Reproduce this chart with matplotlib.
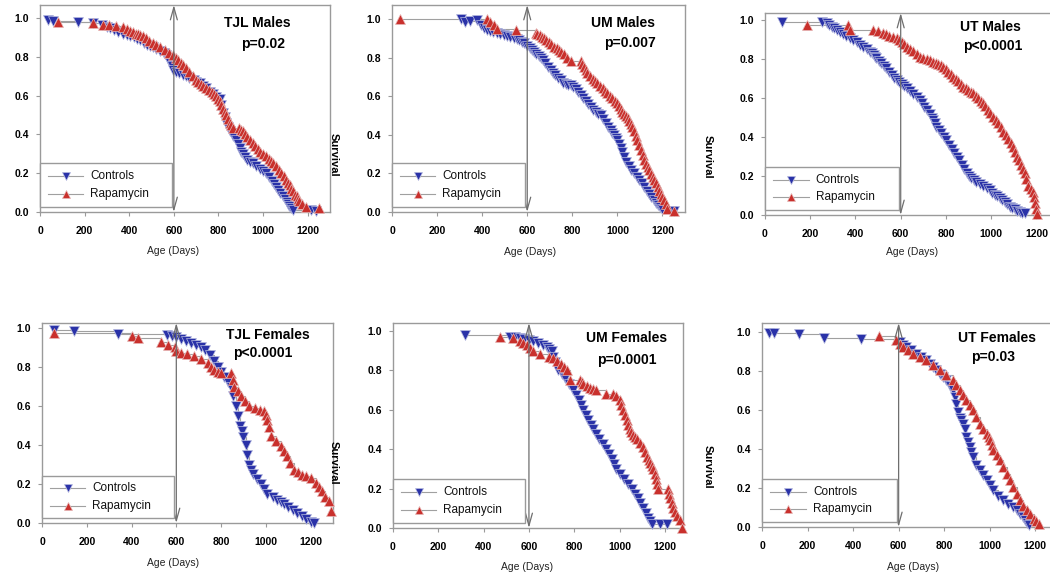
import matplotlib
matplotlib.use("Agg")
import matplotlib.pyplot as plt
from matplotlib.lines import Line2D
from matplotlib.patches import Rectangle

# ---------------- data (age in days, fraction surviving) ----------------
tjl_m_ctrl_age = [37, 60, 171, 238, 280, 300, 313, 330, 350, 370, 388, 405, 420, 435, 447, 465, 480, 495, 507, 520, 540, 555, 566, 575, 581, 590, 596, 610, 625, 640, 656, 670, 690, 700, 715, 730, 745, 760, 775, 790, 805, 812, 820, 828, 835, 842, 850, 865, 880, 888, 895, 902, 909, 920, 930, 942, 954, 970, 985, 1000, 1014, 1028, 1040, 1050, 1058, 1067, 1075, 1088, 1097, 1105, 1112, 1118, 1125, 1133, 1215, 1237]
tjl_m_ctrl_surv = [0.99, 0.985, 0.98, 0.975, 0.965, 0.955, 0.95, 0.94, 0.93, 0.92, 0.91, 0.905, 0.90, 0.89, 0.885, 0.87, 0.86, 0.855, 0.85, 0.84, 0.83, 0.82, 0.81, 0.79, 0.77, 0.75, 0.73, 0.72, 0.715, 0.705, 0.70, 0.69, 0.68, 0.67, 0.665, 0.65, 0.64, 0.62, 0.61, 0.595, 0.58, 0.55, 0.51, 0.49, 0.46, 0.44, 0.415, 0.39, 0.37, 0.35, 0.33, 0.31, 0.30, 0.285, 0.27, 0.26, 0.25, 0.235, 0.22, 0.21, 0.20, 0.18, 0.16, 0.145, 0.13, 0.115, 0.10, 0.08, 0.065, 0.05, 0.04, 0.03, 0.02, 0.01, 0.01, 0.005]
tjl_m_rapa_age = [82, 238, 283, 310, 340, 373, 390, 405, 417, 430, 440, 450, 462, 475, 490, 505, 522, 540, 560, 578, 596, 608, 620, 630, 641, 655, 670, 685, 700, 710, 720, 732, 745, 758, 770, 780, 790, 798, 805, 812, 820, 828, 835, 842, 850, 857, 864, 894, 902, 909, 920, 930, 942, 954, 965, 975, 985, 1000, 1014, 1025, 1035, 1046, 1058, 1070, 1080, 1092, 1103, 1112, 1120, 1127, 1133, 1142, 1150, 1157, 1163, 1175, 1193, 1252]
tjl_m_rapa_surv = [0.98, 0.975, 0.965, 0.962, 0.96, 0.955, 0.945, 0.935, 0.93, 0.92, 0.915, 0.91, 0.905, 0.895, 0.88, 0.87, 0.86, 0.848, 0.835, 0.82, 0.81, 0.795, 0.785, 0.77, 0.76, 0.74, 0.72, 0.70, 0.68, 0.67, 0.66, 0.65, 0.64, 0.63, 0.62, 0.61, 0.60, 0.585, 0.57, 0.55, 0.53, 0.515, 0.50, 0.48, 0.46, 0.447, 0.435, 0.435, 0.425, 0.415, 0.40, 0.385, 0.37, 0.355, 0.34, 0.325, 0.31, 0.30, 0.29, 0.275, 0.265, 0.25, 0.235, 0.215, 0.20, 0.185, 0.167, 0.15, 0.14, 0.12, 0.107, 0.09, 0.08, 0.065, 0.055, 0.04, 0.026, 0.02]

um_m_ctrl_age = [304, 326, 345, 378, 393, 408, 422, 436, 450, 465, 481, 495, 510, 525, 541, 555, 565, 575, 585, 600, 612, 622, 631, 640, 650, 659, 670, 680, 692, 704, 715, 725, 737, 748, 760, 770, 782, 793, 805, 815, 826, 837, 848, 860, 871, 882, 893, 905, 915, 926, 938, 950, 960, 970, 978, 985, 993, 1000, 1008, 1015, 1022, 1030, 1040, 1050, 1062, 1074, 1085, 1095, 1107, 1119, 1130, 1140, 1150, 1163, 1172, 1180, 1190, 1200, 1237, 1252]
um_m_ctrl_surv = [1.0, 0.985, 0.99, 0.995, 0.97, 0.955, 0.94, 0.935, 0.93, 0.925, 0.92, 0.915, 0.91, 0.905, 0.90, 0.895, 0.89, 0.88, 0.875, 0.86, 0.85, 0.84, 0.83, 0.82, 0.81, 0.80, 0.785, 0.77, 0.75, 0.735, 0.72, 0.71, 0.695, 0.683, 0.67, 0.665, 0.66, 0.657, 0.645, 0.635, 0.62, 0.605, 0.59, 0.575, 0.56, 0.545, 0.53, 0.52, 0.51, 0.50, 0.48, 0.46, 0.44, 0.424, 0.41, 0.40, 0.385, 0.372, 0.35, 0.33, 0.31, 0.285, 0.26, 0.24, 0.22, 0.20, 0.18, 0.165, 0.15, 0.13, 0.11, 0.095, 0.08, 0.06, 0.045, 0.035, 0.025, 0.017, 0.005, 0.005]
um_m_rapa_age = [37, 422, 437, 452, 467, 548, 637, 645, 655, 664, 674, 685, 696, 707, 718, 730, 740, 752, 763, 775, 793, 837, 845, 852, 860, 867, 878, 890, 900, 911, 922, 935, 945, 956, 967, 978, 990, 1000, 1008, 1015, 1022, 1030, 1038, 1045, 1052, 1059, 1067, 1075, 1082, 1089, 1097, 1104, 1112, 1119, 1126, 1134, 1141, 1148, 1156, 1163, 1170, 1178, 1185, 1192, 1200, 1207, 1215, 1222, 1252]
um_m_rapa_surv = [1.0, 1.0, 0.985, 0.97, 0.95, 0.943, 0.925, 0.92, 0.915, 0.905, 0.90, 0.89, 0.88, 0.868, 0.857, 0.848, 0.84, 0.83, 0.82, 0.80, 0.78, 0.78, 0.765, 0.75, 0.735, 0.718, 0.705, 0.69, 0.678, 0.666, 0.653, 0.64, 0.627, 0.614, 0.60, 0.59, 0.575, 0.562, 0.55, 0.535, 0.52, 0.51, 0.497, 0.485, 0.47, 0.458, 0.44, 0.42, 0.395, 0.372, 0.345, 0.32, 0.295, 0.268, 0.25, 0.235, 0.215, 0.199, 0.18, 0.165, 0.148, 0.13, 0.11, 0.095, 0.078, 0.06, 0.04, 0.017, 0.005]

ut_m_ctrl_age = [74, 250, 272, 285, 295, 306, 317, 330, 345, 360, 375, 390, 405, 420, 434, 450, 464, 472, 480, 487, 493, 504, 515, 526, 537, 548, 560, 571, 582, 594, 605, 615, 626, 640, 655, 670, 685, 695, 705, 718, 729, 737, 745, 752, 758, 769, 780, 790, 802, 813, 825, 836, 847, 858, 870, 880, 891, 902, 912, 924, 935, 950, 965, 980, 994, 1005, 1015, 1027, 1038, 1050, 1060, 1071, 1082, 1094, 1105, 1116, 1126, 1137, 1148]
ut_m_ctrl_surv = [0.99, 0.99, 0.983, 0.975, 0.965, 0.957, 0.95, 0.94, 0.93, 0.918, 0.906, 0.895, 0.885, 0.874, 0.863, 0.85, 0.838, 0.83, 0.82, 0.81, 0.803, 0.79, 0.78, 0.765, 0.752, 0.735, 0.72, 0.705, 0.692, 0.68, 0.67, 0.66, 0.65, 0.635, 0.62, 0.605, 0.59, 0.572, 0.555, 0.537, 0.52, 0.50, 0.485, 0.47, 0.453, 0.437, 0.42, 0.40, 0.385, 0.36, 0.34, 0.32, 0.30, 0.28, 0.255, 0.235, 0.214, 0.20, 0.19, 0.18, 0.171, 0.16, 0.15, 0.14, 0.128, 0.115, 0.105, 0.095, 0.085, 0.075, 0.065, 0.055, 0.043, 0.036, 0.03, 0.022, 0.017, 0.012, 0.009]
ut_m_rapa_age = [184, 368, 375, 478, 500, 523, 537, 550, 566, 582, 594, 605, 615, 626, 640, 655, 670, 685, 700, 715, 730, 744, 755, 766, 777, 788, 799, 810, 821, 832, 843, 854, 865, 876, 887, 898, 909, 920, 931, 942, 953, 964, 975, 986, 997, 1009, 1020, 1030, 1042, 1053, 1064, 1075, 1086, 1097, 1106, 1115, 1122, 1130, 1139, 1148, 1156, 1165, 1175, 1185, 1190, 1193, 1198, 1203]
ut_m_rapa_surv = [0.974, 0.974, 0.95, 0.95, 0.945, 0.932, 0.926, 0.92, 0.913, 0.906, 0.895, 0.885, 0.875, 0.863, 0.852, 0.84, 0.826, 0.812, 0.805, 0.80, 0.793, 0.786, 0.78, 0.775, 0.768, 0.76, 0.748, 0.735, 0.722, 0.709, 0.697, 0.685, 0.672, 0.658, 0.65, 0.64, 0.632, 0.624, 0.612, 0.60, 0.587, 0.573, 0.558, 0.54, 0.522, 0.504, 0.488, 0.47, 0.45, 0.427, 0.41, 0.39, 0.37, 0.35, 0.325, 0.30, 0.28, 0.255, 0.235, 0.214, 0.185, 0.15, 0.135, 0.12, 0.09, 0.06, 0.03, 0.005]

tjl_f_ctrl_age = [52, 141, 341, 560, 580, 600, 622, 645, 667, 690, 711, 730, 750, 770, 785, 800, 815, 830, 844, 855, 867, 877, 886, 893, 900, 911, 918, 926, 935, 944, 960, 978, 993, 1007, 1030, 1052, 1066, 1081, 1100, 1120, 1141, 1160, 1180, 1200, 1215]
tjl_f_ctrl_surv = [0.99, 0.983, 0.97, 0.966, 0.96, 0.955, 0.945, 0.935, 0.923, 0.915, 0.905, 0.885, 0.86, 0.83, 0.80, 0.775, 0.75, 0.725, 0.70, 0.65, 0.60, 0.55, 0.50, 0.47, 0.44, 0.40, 0.35, 0.30, 0.27, 0.25, 0.225, 0.20, 0.175, 0.15, 0.135, 0.12, 0.11, 0.10, 0.08, 0.065, 0.05, 0.035, 0.02, 0.005, 0.0]
tjl_f_rapa_age = [52, 400, 430, 533, 563, 593, 600, 622, 650, 681, 710, 741, 755, 770, 785, 800, 844, 852, 859, 874, 889, 905, 926, 950, 975, 993, 1000, 1007, 1015, 1022, 1045, 1067, 1081, 1096, 1110, 1126, 1145, 1163, 1180, 1200, 1222, 1237, 1252, 1266, 1281, 1289]
tjl_f_rapa_surv = [0.974, 0.957, 0.949, 0.93, 0.915, 0.905, 0.88, 0.872, 0.865, 0.855, 0.84, 0.82, 0.80, 0.786, 0.775, 0.77, 0.77, 0.735, 0.70, 0.675, 0.65, 0.625, 0.60, 0.59, 0.58, 0.575, 0.555, 0.53, 0.49, 0.444, 0.42, 0.393, 0.37, 0.342, 0.31, 0.273, 0.26, 0.248, 0.24, 0.23, 0.205, 0.185, 0.162, 0.135, 0.111, 0.06]

um_f_ctrl_age = [317, 515, 540, 560, 580, 600, 620, 640, 660, 680, 690, 700, 707, 715, 722, 730, 745, 760, 778, 795, 808, 820, 830, 839, 850, 860, 872, 883, 896, 910, 925, 942, 953, 965, 976, 986, 1003, 1020, 1036, 1053, 1066, 1080, 1092, 1104, 1115, 1125, 1133, 1141, 1180, 1210]
um_f_ctrl_surv = [0.978, 0.97, 0.968, 0.965, 0.96, 0.955, 0.948, 0.94, 0.93, 0.92, 0.91, 0.90, 0.87, 0.84, 0.82, 0.80, 0.78, 0.76, 0.73, 0.70, 0.675, 0.65, 0.625, 0.60, 0.575, 0.55, 0.525, 0.50, 0.475, 0.45, 0.425, 0.40, 0.375, 0.35, 0.325, 0.30, 0.275, 0.25, 0.225, 0.20, 0.175, 0.15, 0.125, 0.10, 0.075, 0.05, 0.035, 0.02, 0.02, 0.02]
um_f_rapa_age = [471, 530, 560, 575, 590, 605, 620, 650, 690, 707, 725, 740, 753, 766, 780, 825, 832, 839, 855, 870, 884, 898, 940, 972, 986, 1001, 1008, 1016, 1023, 1031, 1038, 1045, 1052, 1060, 1068, 1075, 1090, 1104, 1112, 1120, 1128, 1135, 1142, 1148, 1155, 1163, 1167, 1171, 1215, 1218, 1222, 1230, 1237, 1246, 1255, 1266, 1274]
um_f_rapa_surv = [0.97, 0.965, 0.95, 0.94, 0.93, 0.915, 0.90, 0.885, 0.87, 0.86, 0.845, 0.83, 0.815, 0.80, 0.75, 0.75, 0.74, 0.73, 0.72, 0.71, 0.705, 0.70, 0.68, 0.68, 0.67, 0.65, 0.625, 0.60, 0.575, 0.55, 0.525, 0.50, 0.485, 0.47, 0.46, 0.45, 0.43, 0.41, 0.385, 0.36, 0.345, 0.33, 0.315, 0.30, 0.275, 0.25, 0.225, 0.20, 0.20, 0.175, 0.15, 0.125, 0.10, 0.08, 0.06, 0.04, 0.0]

ut_f_ctrl_age = [29, 52, 162, 272, 434, 604, 618, 633, 655, 677, 700, 721, 736, 751, 766, 780, 795, 810, 825, 839, 847, 854, 862, 869, 876, 883, 890, 898, 905, 913, 920, 928, 942, 957, 972, 987, 1001, 1016, 1038, 1060, 1082, 1104, 1119, 1134, 1145, 1156, 1164, 1171]
ut_f_ctrl_surv = [0.995, 0.995, 0.988, 0.971, 0.966, 0.949, 0.935, 0.923, 0.905, 0.889, 0.872, 0.855, 0.837, 0.82, 0.803, 0.786, 0.77, 0.752, 0.725, 0.70, 0.665, 0.632, 0.59, 0.56, 0.547, 0.53, 0.50, 0.462, 0.435, 0.41, 0.385, 0.359, 0.32, 0.29, 0.265, 0.239, 0.213, 0.188, 0.16, 0.137, 0.12, 0.103, 0.085, 0.068, 0.05, 0.034, 0.02, 0.009]
ut_f_rapa_age = [515, 589, 604, 618, 640, 663, 692, 721, 750, 780, 810, 839, 854, 869, 884, 898, 913, 928, 942, 957, 972, 987, 995, 1001, 1008, 1016, 1030, 1045, 1060, 1075, 1090, 1104, 1119, 1134, 1148, 1163, 1178, 1193, 1205, 1215]
ut_f_rapa_surv = [0.978, 0.957, 0.94, 0.923, 0.905, 0.889, 0.872, 0.855, 0.83, 0.803, 0.778, 0.752, 0.726, 0.70, 0.675, 0.65, 0.625, 0.598, 0.565, 0.53, 0.505, 0.479, 0.46, 0.444, 0.42, 0.393, 0.367, 0.342, 0.31, 0.274, 0.24, 0.205, 0.17, 0.137, 0.11, 0.085, 0.065, 0.043, 0.03, 0.017]

panel_titles = ["TJL Males", "UM Males", "UT Males", "TJL Females", "UM Females", "UT Females"]
panel_pvals = ["p=0.02", "p=0.007", "p<0.0001", "p<0.0001", "p=0.0001", "p=0.03"]
series_labels = ["Controls", "Rapamycin"]
x_ticks = [0, 200, 400, 600, 800, 1000, 1200]
y_ticks = [0.0, 0.2, 0.4, 0.6, 0.8, 1.0]
treatment_start = 600

panel_data = [
    (tjl_m_ctrl_age, tjl_m_ctrl_surv, tjl_m_rapa_age, tjl_m_rapa_surv),
    (um_m_ctrl_age, um_m_ctrl_surv, um_m_rapa_age, um_m_rapa_surv),
    (ut_m_ctrl_age, ut_m_ctrl_surv, ut_m_rapa_age, ut_m_rapa_surv),
    (tjl_f_ctrl_age, tjl_f_ctrl_surv, tjl_f_rapa_age, tjl_f_rapa_surv),
    (um_f_ctrl_age, um_f_ctrl_surv, um_f_rapa_age, um_f_rapa_surv),
    (ut_f_ctrl_age, ut_f_ctrl_surv, ut_f_rapa_age, ut_f_rapa_surv),
]

# ---------------- layout (pixels in a 1050x579 canvas) ----------------
W, H = 1050, 579
# left, right, top, bottom (px), xmax, ymax
boxes = [
    (40, 330, 5, 212, 1300, 1.067),
    (392, 685, 5, 212, 1300, 1.072),
    (765, 1059, 13, 215, 1300, 1.036),
    (42, 333, 323, 523, 1300, 1.026),
    (393, 683, 323, 528, 1280, 1.040),
    (762, 1058, 323, 527, 1300, 1.046),
]
title_pos = [((257, 23), (263, 44)), ((623, 23), (630, 43)), ((990, 27), (993, 46)),
             ((268, 335), (263, 353)), ((627, 338), (627, 360)), ((997, 338), (993, 357))]
xlabel_pos = [(173, 251), (530, 252), (912, 252), (173, 563), (527, 567), (913, 567)]
ylabel_pos = [(334, 155), (708, 157), (334, 463), (708, 467)]

CTRL_C = "#2a32a8"
RAPA_C = "#c9302c"
CTRL_E = "#b8bce0"
RAPA_E = "#e6b8b8"
GRID_C = "#9a9a9a"
FONT = "Liberation Sans"
MS = 6.5

fig = plt.figure(figsize=(W / 100, H / 100), dpi=100)
fig.patch.set_facecolor("white")


def fx(x):
    return x / W


def fy(y):
    return 1 - y / H


for i, (l, r, t, b, xmax, ymax) in enumerate(boxes):
    ax = fig.add_axes([fx(l), fy(b), (r - l) / W, (b - t) / H])
    ca, cs, ra, rs = panel_data[i]
    ax.plot(ca, cs, drawstyle="steps-post", color="#a0a0a0", lw=0.8, zorder=2)
    ax.plot(ra, rs, drawstyle="steps-post", color="#a0a0a0", lw=0.8, zorder=2)
    ax.plot(ca, cs, ls="none", marker="v", ms=MS, mfc=CTRL_C, mec=CTRL_E,
            mew=0.5, clip_on=False, zorder=3)
    ax.plot(ra, rs, ls="none", marker="^", ms=MS, mfc=RAPA_C, mec=RAPA_E,
            mew=0.5, clip_on=False, zorder=4)
    ax.set_xlim(0, xmax)
    ax.set_ylim(0, ymax)
    ax.set_xticks(x_ticks)
    ax.set_yticks(y_ticks)
    ax.set_xticklabels([str(v) for v in x_ticks], fontsize=7.5, fontweight="bold",
                       family=FONT)
    ax.set_yticklabels(["%.1f" % v for v in y_ticks], fontsize=7.5, fontweight="bold",
                       family=FONT)
    ax.tick_params(direction="out", length=3, width=0.8, color=GRID_C)
    ax.tick_params(axis="x", pad=7)
    ax.tick_params(axis="y", pad=5)
    for s in ax.spines.values():
        s.set_color(GRID_C)
        s.set_linewidth(1.0)
    # treatment start arrow
    ax.annotate("", xy=(treatment_start, ymax), xytext=(treatment_start, 0),
                arrowprops=dict(arrowstyle="<->,head_length=0.9,head_width=0.25",
                                color="#6e6e6e", lw=0.9, shrinkA=0, shrinkB=0),
                zorder=5, annotation_clip=False)
    # legend box
    ax.add_patch(Rectangle((0.0, 0.024), 0.455, 0.213, transform=ax.transAxes,
                           fill=True, facecolor="white", edgecolor=GRID_C, lw=1.0,
                           zorder=6, clip_on=False))
    for k, (yy, mk, col, mec) in enumerate([(0.174, "v", CTRL_C, CTRL_E),
                                            (0.087, "^", RAPA_C, RAPA_E)]):
        ax.add_line(Line2D([0.028, 0.148], [yy, yy], transform=ax.transAxes,
                           color="#a0a0a0", lw=0.8, zorder=7))
        ax.add_line(Line2D([0.088], [yy], transform=ax.transAxes, ls="none",
                           marker=mk, ms=5.5, mfc=col, mec=mec, mew=0.5, zorder=8))
        ax.text(0.172, yy, series_labels[k], transform=ax.transAxes, fontsize=8.5,
                family=FONT, va="center", ha="left", zorder=8, color="#111111")

    (tx, ty), (px_, py_) = title_pos[i]
    fig.text(fx(tx), fy(ty), panel_titles[i], fontsize=10, fontweight="bold",
             family=FONT, ha="center", va="center")
    fig.text(fx(px_), fy(py_), panel_pvals[i], fontsize=10, fontweight="bold",
             family=FONT, ha="center", va="center")
    lx, ly = xlabel_pos[i]
    fig.text(fx(lx), fy(ly), "Age (Days)", fontsize=7.5, family=FONT,
             ha="center", va="center", color="#222222")

for (lx, ly) in ylabel_pos:
    fig.text(fx(lx), fy(ly), "Survival", fontsize=8, fontweight="bold", family=FONT,
             ha="center", va="center", rotation=-90)

fig.savefig("out.png", dpi=100, facecolor="white")
